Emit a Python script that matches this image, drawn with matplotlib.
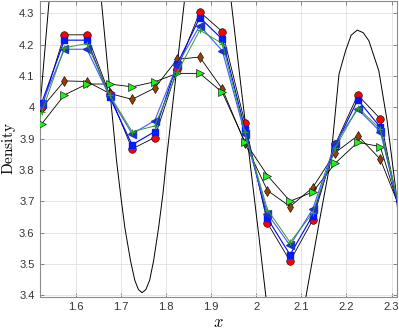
import numpy as np
import matplotlib
matplotlib.use('Agg')
import matplotlib.pyplot as plt
from matplotlib.ticker import FuncFormatter

plt.rcParams['mathtext.fontset'] = 'cm'
plt.rcParams['font.family'] = 'Liberation Sans'

# cell centres
xc = [1.475, 1.525, 1.575, 1.625, 1.675, 1.725, 1.775, 1.825, 1.875, 1.925,
      1.975, 2.025, 2.075, 2.125, 2.175, 2.225, 2.275, 2.325]

rho_red = [3.80, 4.000, 4.231, 4.231, 4.042, 3.867, 3.903, 4.122, 4.304, 4.241,
           3.950, 3.630, 3.509, 3.639, 3.881, 4.039, 3.963, 3.608]
rho_sq = [3.80, 4.015, 4.214, 4.214, 4.033, 3.880, 3.922, 4.138, 4.286, 4.217,
          3.931, 3.645, 3.529, 3.654, 3.876, 4.024, 3.936, 3.617]
rho_ltri = [3.80, 4.010, 4.185, 4.185, 4.035, 3.915, 3.957, 4.135, 4.260, 4.180,
            3.915, 3.660, 3.559, 3.674, 3.885, 3.994, 3.922, 3.630]
rho_plus = [3.80, 3.985, 4.190, 4.203, 4.040, 3.922, 3.940, 4.111, 4.246, 4.203,
            3.920, 3.673, 3.569, 3.662, 3.870, 3.999, 3.930, 3.640]
rho_dia = [3.85, 3.998, 4.084, 4.082, 4.044, 4.025, 4.061, 4.153, 4.160, 4.058,
           3.885, 3.734, 3.683, 3.743, 3.855, 3.909, 3.834, 3.653]
rho_rtri = [3.85, 3.947, 4.039, 4.074, 4.074, 4.065, 4.081, 4.108, 4.108, 4.047,
            3.890, 3.782, 3.700, 3.729, 3.821, 3.888, 3.874, 3.639]

# reference solution (extremes outside the axes are guesses)
x_ref = [1.500, 1.521, 1.531, 1.541, 1.555, 1.599, 1.643, 1.657, 1.674, 1.6905,
         1.6993, 1.7088, 1.7214, 1.7309, 1.7390, 1.7470, 1.7555, 1.7640, 1.7728,
         1.7839, 1.7934, 1.8009, 1.8210, 1.841, 1.855, 1.893, 1.930, 1.9444,
         1.966, 1.9885, 2.005, 2.0216, 2.035, 2.066, 2.097, 2.110, 2.138, 2.165,
         2.1835, 2.198, 2.2105, 2.2238, 2.2370, 2.2497, 2.2717, 2.290, 2.3086,
         2.325]
y_ref = [3.55, 4.000, 4.170, 4.339, 4.52, 4.75, 4.52, 4.339, 4.080, 3.830,
         3.724, 3.617, 3.511, 3.448, 3.418, 3.408, 3.418, 3.448, 3.511,
         3.617, 3.724, 3.830, 4.085, 4.339, 4.52, 4.75, 4.52, 4.339,
         4.070, 3.798, 3.600, 3.394, 3.25, 3.05, 3.25, 3.394, 3.620, 3.830,
         4.106, 4.180, 4.230, 4.246, 4.238, 4.212, 4.116, 3.957, 3.745,
         3.50]

fig = plt.figure(figsize=(3.99, 3.29), dpi=100)
ax = fig.add_axes([0.1003, 0.098, 0.8947, 0.899])

ax.plot(x_ref, y_ref, color='k', linewidth=0.7, zorder=2)

ax.plot(xc, rho_dia, '-d', color='k', linewidth=0.6, markersize=5,
        markerfacecolor=(0.6, 0.25, 0.0), markeredgecolor='k', markeredgewidth=0.4, zorder=3)
ax.plot(xc, rho_rtri, '->', color='k', linewidth=0.6, markersize=5.5,
        markerfacecolor=(0.1, 0.95, 0.1), markeredgecolor='k', markeredgewidth=0.4, zorder=3)
ax.plot(xc, rho_red, '-o', color='k', linewidth=0.6, markersize=5.5,
        markerfacecolor='r', markeredgecolor='k', markeredgewidth=0.4, zorder=4)
ax.plot(xc, rho_sq, '-s', color=(0.0, 0.0, 1.0), linewidth=0.8, markersize=4,
        markerfacecolor=(0.0, 0.1, 1.0), markeredgecolor=(0.0, 0.1, 1.0), zorder=5)
ax.plot(xc, rho_ltri, '-<', color=(0.25, 0.35, 1.0), linewidth=0.8, markersize=5.5,
        markerfacecolor=(0.1, 0.2, 0.8), markeredgecolor=(0.1, 0.2, 0.8), zorder=5)
ax.plot(xc, rho_plus, '-+', color=(0.2, 0.6, 0.2), linewidth=0.7, markersize=4,
        markeredgewidth=0.8, zorder=6)

ax.set_xlim(1.521, 2.312)
ax.set_ylim(3.395, 4.339)
ax.set_xticks([1.6, 1.7, 1.8, 1.9, 2.0, 2.1, 2.2, 2.3])
ax.set_yticks([3.4, 3.5, 3.6, 3.7, 3.8, 3.9, 4.0, 4.1, 4.2, 4.3])
fmt = FuncFormatter(lambda v, p: '%g' % round(v, 2))
ax.xaxis.set_major_formatter(fmt)
ax.yaxis.set_major_formatter(fmt)

ax.grid(True, color=(0.88, 0.88, 0.88), linewidth=0.6)
ax.set_axisbelow(True)
for s in ax.spines.values():
    s.set_color((0.55, 0.55, 0.55))
    s.set_linewidth(0.8)
ax.tick_params(direction='in', length=3, width=0.6, color=(0.45, 0.45, 0.45),
               labelsize=8, labelcolor=(0.2, 0.2, 0.2), top=True, right=True, pad=4)

ax.set_xlabel(r'$x$', fontsize=12, labelpad=2)
ax.set_ylabel(r'$\mathrm{Density}$', fontsize=11)
ax.yaxis.set_label_coords(-0.062, 0.5)

fig.savefig('out.png', dpi=100)
